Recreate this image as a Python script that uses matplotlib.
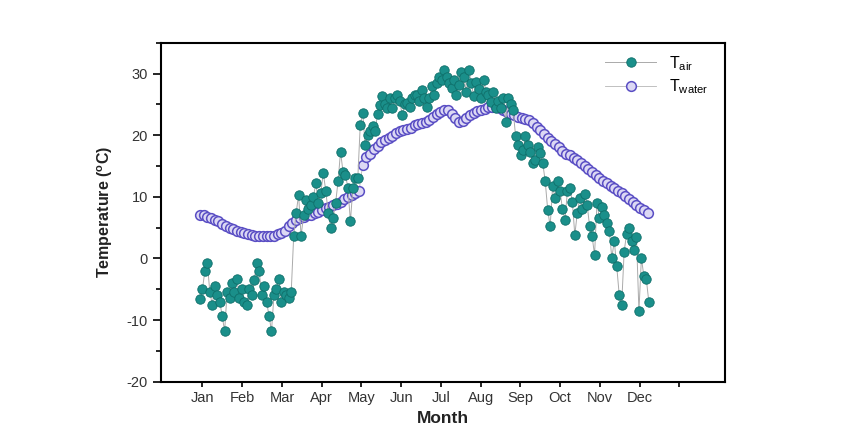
import numpy as np
import matplotlib
matplotlib.use("Agg")
import matplotlib.pyplot as plt
from matplotlib.ticker import MultipleLocator

plt.rcParams['font.family'] = ['Liberation Sans', 'DejaVu Sans']
plt.rcParams['axes.unicode_minus'] = False

months = ["Jan", "Feb", "Mar", "Apr", "May", "Jun", "Jul", "Aug", "Sep", "Oct", "Nov", "Dec"]

# Air temperature, every 2nd day of the year (day 0, 2, ..., 364)
air_days = np.arange(0, 365, 2)
air_temp = [
    -6.6, -5.0, -2.0, -0.7, -5.5, -7.5, -4.4, -6.0, -7.0, -9.3,
    -11.8, -5.5, -6.5, -4.0, -5.5, -3.4, -6.5, -5.0, -7.0, -7.5,
    -5.0, -6.0, -3.5, -0.7, -2.0, -6.0, -4.4, -7.0, -9.3, -11.8,
    -6.0, -5.0, -3.4, -7.0, -5.5, -6.0, -6.5, -5.5,
    3.6, 7.4, 10.3, 3.6, 7.0, 9.5, 8.0, 8.7, 10.0, 12.2,
    9.0, 10.6, 13.9, 11.0, 7.4, 5.0, 6.6, 9.0, 12.5, 17.3,
    14.1, 13.6, 11.4, 6.0, 11.4, 13.0, 13.0, 21.7, 23.6, 18.4,
    20.0, 20.6, 21.5, 20.6, 23.5, 24.9, 26.3, 25.0, 24.4, 26.0,
    24.4, 26.0, 26.5, 25.5, 23.3, 25.0, 25.2, 24.5, 26.0, 26.5,
    26.5, 25.5, 27.3, 26.0, 24.5, 26.0, 27.9, 26.5, 28.5, 29.5,
    29.0, 30.6, 29.5, 28.5, 27.7, 29.0, 26.5, 28.1, 30.3, 29.5,
    27.0, 30.6, 28.5, 26.3, 28.7, 27.5, 26.0, 29.0, 27.0, 26.5,
    25.4, 27.0, 24.4, 25.5, 24.4, 26.0, 22.2, 26.0, 25.0, 24.0,
    19.8, 18.4, 16.8, 17.6, 19.8, 18.4, 17.3, 15.5, 16.0, 18.0,
    17.1, 15.5, 12.5, 7.9, 5.2, 11.7, 9.8, 12.5, 10.9, 8.0,
    6.3, 10.9, 11.5, 9.2, 3.8, 7.4, 9.8, 8.0, 10.5, 8.7,
    5.2, 3.6, 0.6, 9.0, 6.5, 8.4, 7.0, 5.8, 4.4, 0.1,
    2.8, -1.3, -5.9, -7.5, 1.1, 4.0, 5.0, 2.8, 1.4, 3.5,
    -8.6, 0.1, -2.9, -3.4, -7.0,
]

# Water temperature, every 3rd day of the year (day 0, 3, ..., 363)
water_days = np.arange(0, 364, 3)
water_temp = [
    7.0, 7.0, 6.8, 6.5, 6.2, 6.0, 5.6, 5.3, 5.0, 4.7,
    4.5, 4.3, 4.1, 3.9, 3.8, 3.7, 3.6, 3.6, 3.7, 3.6,
    3.7, 3.9, 4.2, 4.5, 5.2, 5.8, 6.2, 6.5, 6.8, 7.0,
    7.1, 7.3, 7.6, 7.9, 8.2, 8.4, 8.6, 8.8, 9.2, 9.6,
    9.9, 10.3, 10.6, 10.9, 15.2, 16.5, 17.0, 17.8, 18.3, 18.9,
    19.2, 19.6, 19.9, 20.3, 20.6, 20.8, 21.0, 21.2, 21.6, 21.8,
    22.0, 22.2, 22.5, 23.0, 23.4, 23.8, 24.0, 24.0, 23.5, 22.8,
    22.2, 22.3, 22.8, 23.2, 23.6, 23.9, 24.1, 24.3, 24.5, 24.6,
    24.6, 24.4, 24.1, 23.8, 23.5, 23.3, 23.0, 22.8, 22.6, 22.5,
    21.9, 21.4, 20.8, 20.2, 19.6, 19.0, 18.5, 18.0, 17.4, 17.0,
    16.7, 16.3, 16.0, 15.5, 15.0, 14.5, 14.0, 13.5, 13.1, 12.6,
    12.2, 11.8, 11.4, 11.0, 10.6, 10.2, 9.7, 9.2, 8.7, 8.2,
    7.8, 7.4,
]

# month tick positions on the day axis (as drawn in the original figure)
tick_start = 1.95
tick_step = 32.24

fig = plt.figure(figsize=(8.65, 4.38), dpi=100)
ax = fig.add_axes([161 / 865, 1 - 381.7 / 438, (725 - 161) / 865, (381.7 - 42.7) / 438])

ax.plot(water_days, water_temp, color='#b5b5b5', lw=0.6, marker='o', ms=7,
        mfc='#dcd8f4', mec='#5a4ec4', mew=1.1, zorder=2, label='T$_{\\mathregular{water}}$')
ax.plot(air_days, air_temp, color='#aaaaaa', lw=0.7, marker='o', ms=6.8,
        mfc='#1a8f8a', mec='#0f6f6a', mew=0.6, zorder=3, label='T$_{\\mathregular{air}}$')

ax.set_xlim(-31.6, 425.8)
ax.set_ylim(-20, 35)

ticks = [tick_start + i * tick_step for i in range(13)]
ax.set_xticks(ticks)
ax.set_xticklabels(months + [''])
for i, t in enumerate(ax.xaxis.get_major_ticks()):
    t.tick1line.set_markersize(6 if i % 2 == 0 else 3.5)

ax.yaxis.set_major_locator(MultipleLocator(10))
ax.yaxis.set_minor_locator(MultipleLocator(5))
ax.tick_params(axis='both', which='both', direction='out', colors='black',
               labelcolor='#333333', labelsize=10.5, width=1.2)
ax.tick_params(axis='y', which='major', length=6)
ax.tick_params(axis='y', which='minor', length=3.5)

for s in ax.spines.values():
    s.set_linewidth(1.5)
    s.set_color('black')

ax.set_xlabel('Month', fontsize=12.5, fontweight='bold', color='#222222', labelpad=4)
ax.set_ylabel('Temperature ($^{\\mathregular{o}}$C)', fontsize=11.5, fontweight='bold',
              color='#222222', labelpad=8)

h, l = ax.get_legend_handles_labels()
leg = ax.legend(h[::-1], l[::-1], loc='upper right', frameon=False, fontsize=11.5,
                handlelength=3.2, borderaxespad=0.3, labelspacing=0.3,
                bbox_to_anchor=(0.99, 1.0))

fig.savefig('out.png', dpi=100)
